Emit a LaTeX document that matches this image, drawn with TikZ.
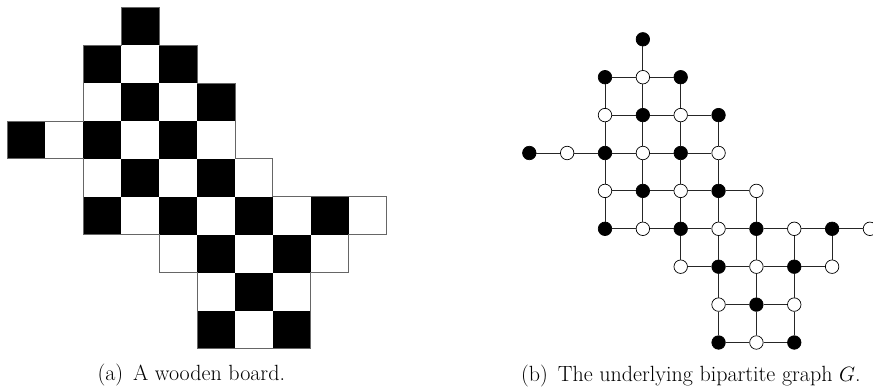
\documentclass[tikz,border=0pt]{standalone}
\begin{document}
\begin{tikzpicture}[x=1pt,y=-1pt,
  cellblack/.style={fill=black},
  outline/.style={draw=black!60,line width=0.8pt},
  vb/.style={circle,fill=black,draw=black,line width=0.7pt,minimum size=13.5pt,inner sep=0pt},
  vw/.style={circle,fill=white,draw=black,line width=0.7pt,minimum size=13.5pt,inner sep=0pt},
  link/.style={draw=black!85,line width=0.8pt},
  captext/.style={anchor=base west,inner sep=0pt,font=\fontsize{22}{26}\selectfont}]
\useasboundingbox (0,0) rectangle (873,390);
% ---------- board ----------
\begin{scope}[shift={(7.5,7.3)},x=37.9pt,y=-37.9pt]
  \foreach \r/\a/\b in {0/3/3,1/2/4,2/2/5,3/0/5,4/2/6,5/2/9,6/4/8,7/5/7,8/5/7}{
    \foreach \c in {\a,...,\b}{
      \pgfmathtruncatemacro{\p}{mod(\r+\c,2)}
      \ifnum\p=1 \fill[cellblack] (\c,\r) rectangle ++(1,1);\fi
    }
  }
  \draw[outline] (3,0)--(4,0)--(4,1)--(5,1)--(5,2)--(6,2)--(6,4)--(7,4)--(7,5)--(10,5)--(10,6)--(9,6)--(9,7)--(8,7)--(8,9)--(5,9)--(5,7)--(4,7)--(4,6)--(2,6)--(2,4)--(0,4)--(0,3)--(2,3)--(2,1)--(3,1)--cycle;
\end{scope}
% ---------- graph ----------
\begin{scope}[shift={(529.3,39.3)},x=37.85pt,y=-37.9pt]
  \foreach \r/\a/\b in {0/3/3,1/2/4,2/2/5,3/0/5,4/2/6,5/2/9,6/4/8,7/5/7,8/5/7}{
    \foreach \c in {\a,...,\b}{
      \pgfmathtruncatemacro{\p}{mod(\r+\c,2)}
      \ifnum\p=1 \node[vb] (n-\r-\c) at (\c,\r) {};
      \else \node[vw] (n-\r-\c) at (\c,\r) {};\fi
    }
  }
  % horizontal edges
  \foreach \r/\a/\b in {1/2/3,2/2/4,3/0/4,4/2/5,5/2/8,6/4/7,7/5/6,8/5/6}{
    \foreach \c in {\a,...,\b}{
      \pgfmathtruncatemacro{\d}{\c+1}
      \draw[link] (n-\r-\c) -- (n-\r-\d);
    }
  }
  % vertical edges
  \foreach \r/\a/\b in {0/3/3,1/2/4,2/2/5,3/2/5,4/2/6,5/4/8,6/5/7,7/5/7}{
    \foreach \c in {\a,...,\b}{
      \pgfmathtruncatemacro{\s}{\r+1}
      \draw[link] (n-\r-\c) -- (n-\s-\c);
    }
  }
\end{scope}
% ---------- captions ----------
\node[captext] (capa) at (97.3,380.7) {(a)\hspace{0.45em}A wooden board.};
\node[captext] (capb) at (521,381) {(b)\hspace{0.45em}The underlying bipartite graph $G$.};
\end{tikzpicture}
\end{document}
